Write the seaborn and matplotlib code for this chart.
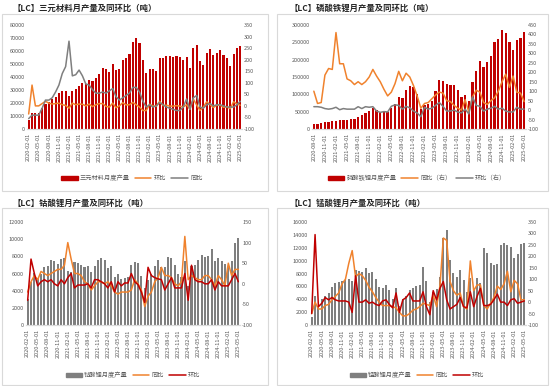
import numpy as np
import pandas as pd
import seaborn as sns
import matplotlib.pyplot as plt
from matplotlib.patches import Rectangle, Patch
from matplotlib.lines import Line2D

sns.set_style("white")
plt.rcParams["font.family"] = ["Noto Sans CJK SC", "DejaVu Sans"]
plt.rcParams["axes.unicode_minus"] = False

# month labels
months_a = pd.date_range("2020-02-01", "2025-05-01", freq="MS").strftime("%Y-%m-%d").tolist()
months_b = pd.date_range("2020-08-01", "2025-05-01", freq="MS").strftime("%Y-%m-%d").tolist()

# 三元材料 (2020-02 ~ 2025-05)
ncm_prod = [7000, 12000, 12000, 12000, 16000, 19000, 21000, 23000, 25000, 28000, 29000,
            29500, 25500, 29000, 30500, 33000, 35500, 35000, 38000, 37000, 39000, 42500, 47000,
            46000, 43500, 50000, 45500, 46000, 53000, 55000, 58000, 67000, 70000, 66000, 53000,
            43000, 46000, 46000, 45000, 54500, 55000, 56500, 56000, 55500, 56000, 55500, 53000,
            55500, 47000, 62500, 65000, 52000, 49500, 58500, 61500, 57000, 58500, 60500, 57000,
            55000, 48500, 57500, 62000, 64000]
ncm_mom = [-35, 90, 0, 0, 10, 20, 12, 8, 10, 12, 5,
           2, -10, 12, 5, 8, 7, 0, 8, -3, 5, 10, 10,
           -2, -5, 12, -8, 0, 14, 4, 5, 15, 5, -5, -20,
           -20, 7, 0, -2, 20, 1, 3, -1, -1, 1, -1, -5,
           5, -15, 30, 4, -20, -5, 18, 5, -7, 3, 3, -6,
           -4, -12, 18, 8, 3]
ncm_yoy = [-55, -40, -40, -40, -10, 25, 25, 35, 60, 90, 140,
           170, 280, 130, 135, 155, 130, 95, 90, 70, 55, 55, 60,
           55, 65, 75, 40, 25, 35, 45, 55, 80, 80, 60, 20,
           -5, 5, -5, 0, 15, 5, -5, -10, -15, -20, -20, -5,
           30, -15, 35, 45, -5, -10, 5, 10, 0, 5, 5, 0,
           -5, -5, -5, 5, 20]

# 磷酸铁锂 (2020-08 ~ 2025-05)
lfp_prod = [14000, 15000, 17000, 19000, 20000,
            22000, 22000, 25000, 26000, 27000, 28000, 30000, 36000, 40000, 45000, 52000, 60000,
            55000, 50000, 53000, 48000, 62000, 72000, 92000, 90000, 112000, 125000, 120000, 100000,
            58000, 68000, 72000, 80000, 110000, 141000, 138000, 130000, 127000, 126000, 113000, 93000,
            98000, 80000, 136000, 167000, 196000, 180000, 192000, 211000, 252000, 260000, 285000, 276000,
            252000, 228000, 258000, 262000, 280000]
lfp_yoy = [100, 35, 40, 185, 220,
           215, 410, 245, 245, 165, 155, 135, 150, 135, 150, 175, 215,
           180, 150, 110, 75, 95, 140, 205, 155, 195, 175, 130, 75,
           10, 35, 40, 60, 80, 95, 90, 50, 45, 25, 10, 0,
           55, -10, 70, 105, 95, 40, 30, 50, 65, 100, 150, 190,
           120, 180, 95, 90, 45]
lfp_mom = [18, 18, 15, 8, 5,
           8, 15, 2, 8, 5, 5, 5, 18, 8, 18, 15, 18,
           -5, -12, -8, -10, 20, 28, 25, 5, 20, 12, -5, -15,
           -35, 15, 5, 10, 25, 40, 20, -5, -5, 0, -10, -15,
           5, -20, 70, 25, 20, -5, 5, 10, 20, 5, 10, -5,
           -10, -10, 15, 5, 5]

# 钴酸锂 (2020-02 ~ 2025-05)
lco_prod = [3000, 5000, 6100, 5500, 6000, 6800, 6900, 7600, 7500, 7100, 7700,
            7800, 6300, 6200, 7300, 7200, 7000, 6800, 6900, 6200, 6900, 7600, 7800,
            7600, 6600, 6900, 5600, 5900, 5400, 5500, 5600, 7000, 7300, 7200, 5700,
            4300, 5200, 6000, 6900, 7600, 6700, 6800, 7900, 7800, 7000, 5900, 5600,
            7400, 4500, 6900, 7000, 7600, 8100, 7900, 8000, 8800, 7500, 7800, 7500,
            7100, 6800, 7500, 9500, 10100]
lco_yoy = [-20, 5, 20, 10, 30, 25, 20, 25, 30, 35, 35,
           45, 100, 60, 25, 25, 20, 5, 0, -15, -5, 5, 5,
           0, 5, -5, -20, -25, -20, -20, -20, -15, 10, 0, -15,
           -55, -30, -20, 5, 15, 40, 20, 20, 15, 0, -5, 5,
           115, 10, 20, 15, 10, 10, 20, 20, 10, -5, 20, 10,
           -5, 50, 20, 35, 35]
lco_mom = [-40, 60, 25, -5, 5, 10, 5, 10, 0, -5, 10,
           0, 15, 25, -10, -3, -3, -3, 0, -10, 10, 10, 5,
           0, -10, 5, -20, 5, -5, 2, 2, 25, 5, -2, -20,
           -45, 40, 20, 15, 12, 10, -15, 0, 15, -10, -10, -10,
           25, -40, 45, 10, 5, 5, 0, 0, 10, -15, 5, -5,
           -5, -5, 10, 25, 5]

# 锰酸锂 (2020-02 ~ 2025-05)
lmo_prod = [1200, 4500, 3000, 4000, 4500, 4900, 5900, 6500, 6700, 6800, 7000,
            7200, 6800, 8600, 8400, 8200, 8900, 8100, 8200, 7200, 5900, 5800, 6200,
            5500, 4000, 5800, 3000, 4000, 4500, 5500, 5700, 6000, 6200, 9000, 6800,
            3500, 5200, 5600, 7500, 13500, 14700, 10100, 8100, 7400, 8600, 7000, 5100,
            7300, 5500, 7300, 6600, 11900, 11200, 9700, 9300, 9500, 12400, 12700, 12500,
            12100, 10400, 11000, 12600, 12700]
lmo_yoy = [-50, 0, -30, -30, -15, -10, 10, 25, 40, 80, 100,
           170, 225, 110, 125, 115, 95, 65, 45, 20, 0, -15, -15,
           -15, -20, -25, -45, -60, -60, -50, -35, -30, -20, -5, -10,
           -15, 30, -20, 70, 280, 270, 90, 50, 30, 40, -20, -30,
           180, 50, 75, 75, -15, -30, -5, 20, 70, 55, 80, 135,
           45, 95, 80, 10, 10]
lmo_mom = [-50, 295, -20, -5, 20, 10, 20, 10, 5, 5, 5,
           0, -45, 115, 0, 0, 10, -5, 0, -10, -15, 5, 10,
           -10, -25, 40, -45, 10, 20, 40, 5, 5, 5, 45, -20,
           -55, 50, 10, 60, 90, 10, -30, -20, -10, 20, -20, -25,
           45, -20, 25, 60, -15, -15, -10, 10, 35, 0, 0, -15,
           10, 15, -5, 0, 5]

RED = "#C00000"
ORANGE = "#F0822D"
GRAY = "#7F7F7F"
BARGRAY = "#7F7F7F"
TXT = "#595959"

W, H = 550, 386
fig = plt.figure(figsize=(5.5, 3.86), dpi=100)


def px(x0, y0, x1, y1):
    # pixel box -> figure fraction [l, b, w, h]
    return [x0 / W, 1 - y1 / H, (x1 - x0) / W, (y1 - y0) / H]


def panel(rect, months, prod, lines, bar_color, ymax, ystep, rmin, rmax,
          title, title_xy, bar_label, leg_xy, box):
    n = len(months)
    df = pd.DataFrame({"label": months, "pos": np.arange(n), "prod": prod})
    ax = fig.add_axes(rect)
    sns.barplot(data=df, x="label", y="prod", ax=ax, color=bar_color,
                width=0.62, saturation=1, linewidth=0)
    ax2 = ax.twinx()
    for name, vals, col in lines:
        df[name] = vals
        sns.lineplot(data=df, x="pos", y=name, ax=ax2, color=col, lw=1.1)
    ax.set_xlim(-0.5, n - 0.5)
    ax.set_ylim(0, ymax)
    ax.set_yticks(np.arange(0, ymax + 1, ystep))
    ax2.set_ylim(rmin, rmax)
    ax2.set_yticks(np.arange(rmin, rmax + 1, 50))
    ax.set_xticks(np.arange(0, n, 3))
    ax.set_xticklabels(months[::3], rotation=90)
    for a in (ax, ax2):
        a.set_xlabel("")
        a.set_ylabel("")
        for s in ("top", "left", "right"):
            a.spines[s].set_visible(False)
        a.spines["bottom"].set_color("#D9D9D9")
        a.tick_params(labelsize=4, colors=TXT, length=0, pad=1.5)
    ax.tick_params(axis="x", length=1.5, color="#D9D9D9", labelsize=4)
    fig.text(title_xy[0] / W, 1 - title_xy[1] / H, title, fontsize=6,
             fontweight="bold", color="#262626", va="center", ha="left")
    handles = [Patch(color=bar_color, label=bar_label)]
    handles += [Line2D([], [], color=c, lw=1.1, label=nm) for nm, _, c in lines]
    fig.legend(handles=handles, loc="center", ncol=3, frameon=False,
               fontsize=4.5, handlelength=2.6, handleheight=0.5,
               columnspacing=0.8, handletextpad=0.4,
               bbox_to_anchor=(leg_xy[0] / W, 1 - leg_xy[1] / H),
               labelcolor=TXT)
    fig.add_artist(Rectangle((box[0] / W, 1 - box[3] / H),
                             (box[2] - box[0]) / W, (box[3] - box[1]) / H,
                             transform=fig.transFigure, fill=False,
                             ec="#D9D9D9", lw=0.8))


panel(px(27, 25, 242, 129), months_a, ncm_prod,
      [("环比", ncm_mom, ORANGE), ("同比", ncm_yoy, GRAY)],
      RED, 80000, 10000, -100, 350,
      "【LC】三元材料月产量及同环比（吨）", (13, 8), "三元材料月度产量",
      (132, 178), (2, 14, 268, 191))

panel(px(312, 25, 526, 129), months_b, lfp_prod,
      [("同比（右）", lfp_yoy, ORANGE), ("环比（右）", lfp_mom, GRAY)],
      RED, 300000, 50000, -100, 450,
      "【LC】磷酸铁锂月产量及同环比（吨）", (289, 8), "磷酸铁锂月度产量",
      (417, 178), (277, 14, 548, 191))

panel(px(26, 222, 240, 325), months_a, lco_prod,
      [("同比", lco_yoy, ORANGE), ("环比", lco_mom, RED)],
      BARGRAY, 12000, 2000, -100, 150,
      "【LC】钴酸锂月产量及同环比（吨）", (13, 203), "钴酸锂月度产量",
      (133, 375), (2, 208, 268, 385))

panel(px(310, 222, 526, 325), months_a, lmo_prod,
      [("同比", lmo_yoy, ORANGE), ("环比", lmo_mom, RED)],
      BARGRAY, 16000, 2000, -100, 350,
      "【LC】锰酸锂月产量及同环比（吨）", (289, 203), "锰酸锂月度产量",
      (417, 375), (277, 208, 548, 385))

fig.savefig("out.png", dpi=100, facecolor="white")
